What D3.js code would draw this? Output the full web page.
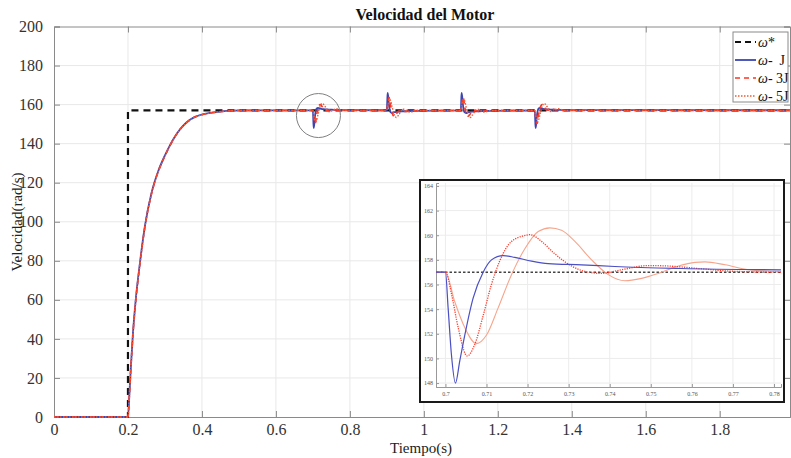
<!DOCTYPE html>
<html>
<head>
<meta charset="utf-8">
<script src="https://cdn.jsdelivr.net/npm/d3@7"></script>
<style>
  body { margin: 0; background: #fff; }
  svg { display: block; }
  svg text { font-family: 'Liberation Serif', 'DejaVu Serif', serif; }
</style>
</head>
<body>
<svg id="chart" width="791" height="458"></svg>
<script>
// main plot: time samples shared by the three speed traces
const tMain = [0, 0.2, 0.204, 0.208, 0.2135, 0.22, 0.2324, 0.246, 0.264, 0.282, 0.3, 0.3315, 0.3676, 0.4216, 0.51, 0.7,
  0.7015, 0.7024, 0.7053, 0.7075, 0.71, 0.714, 0.72, 0.7255, 0.732, 0.74, 0.745, 0.75, 0.763, 0.78, 0.9,
  0.9015, 0.9024, 0.9053, 0.9075, 0.91, 0.914, 0.92, 0.9255, 0.932, 0.94, 0.945, 0.95, 0.963, 0.98, 1.1,
  1.1015, 1.1024, 1.1053, 1.1075, 1.11, 1.114, 1.12, 1.1255, 1.132, 1.14, 1.145, 1.15, 1.163, 1.18, 1.3,
  1.3015, 1.3024, 1.3053, 1.3075, 1.31, 1.314, 1.32, 1.3255, 1.332, 1.34, 1.345, 1.35, 1.363, 1.38, 1.99];

const wJ = [0, 0, 12, 26, 43, 58, 79, 98, 115, 126, 134, 145, 152.3, 155.8, 157, 157,
  150.3, 148.0, 153.5, 156.5, 157.9, 158.3, 157.9, 157.7, 157.6, 157.5, 157.4, 157.4, 157.3, 157.2, 157.1,
  163.7, 166.0, 160.5, 157.5, 156.1, 155.7, 156.1, 156.3, 156.4, 156.5, 156.6, 156.6, 156.7, 156.8, 157.0,
  163.7, 166.0, 160.5, 157.5, 156.1, 155.7, 156.1, 156.3, 156.4, 156.5, 156.6, 156.6, 156.7, 156.8, 157.0,
  150.3, 148.0, 153.5, 156.5, 157.9, 158.3, 157.9, 157.7, 157.6, 157.5, 157.4, 157.4, 157.3, 157.2, 157.1];

const w3J = [0, 0, 11.8, 25.7, 42.6, 57.6, 78.6, 97.7, 114.7, 125.8, 133.8, 144.9, 152.2, 155.7, 157, 157,
  155.2, 153.8, 150.2, 151.1, 154.5, 158.3, 160.0, 158.8, 157.3, 157.1, 157.3, 157.55, 157.25, 157.0, 157.0,
  158.8, 160.2, 163.8, 163.0, 159.5, 155.7, 154.0, 155.2, 156.7, 156.9, 156.7, 156.45, 156.75, 157.0, 157.0,
  158.8, 160.2, 163.8, 163.0, 159.5, 155.7, 154.0, 155.2, 156.7, 156.9, 156.7, 156.45, 156.75, 157.0, 157.0,
  155.2, 153.8, 150.2, 151.1, 154.5, 158.3, 160.0, 158.8, 157.3, 157.1, 157.3, 157.55, 157.25, 157.0, 157.0];

const w5J = [0, 0, 11.6, 25.4, 42.2, 57.2, 78.2, 97.4, 114.4, 125.6, 133.6, 144.8, 152.1, 155.6, 157, 157,
  155.0, 154.6, 152.0, 151.2, 151.9, 155.0, 159.2, 160.6, 159.3, 156.8, 156.35, 156.7, 157.85, 157.05, 157.0,
  159.0, 159.4, 162.0, 162.8, 162.1, 159.0, 154.8, 153.4, 154.7, 157.2, 157.65, 157.3, 156.15, 156.95, 157.0,
  159.0, 159.4, 162.0, 162.8, 162.1, 159.0, 154.8, 153.4, 154.7, 157.2, 157.65, 157.3, 156.15, 156.95, 157.0,
  155.0, 154.6, 152.0, 151.2, 151.9, 155.0, 159.2, 160.6, 159.3, 156.8, 156.35, 156.7, 157.85, 157.05, 157.0];

// reference step
const tRef = [0, 0.2, 0.2, 1.99];
const wRef = [0, 0, 157, 157];

const xTicks = [0, 0.2, 0.4, 0.6, 0.8, 1, 1.2, 1.4, 1.6, 1.8];
const yTicks = [0, 20, 40, 60, 80, 100, 120, 140, 160, 180, 200];

// zoomed inset around the first load step (t = 0.7 s)
const tZJ = [0.6977, 0.7, 0.70065, 0.70146, 0.70244, 0.70349, 0.70471, 0.70674, 0.70918, 0.71121, 0.71405,
  0.71689, 0.72096, 0.72502, 0.73314, 0.74126, 0.7575, 0.7817];
const wZJ = [157, 157, 154.1, 150.3, 148.0, 149.8, 151.9, 154.9, 157.0, 158.0, 158.35,
  158.2, 157.9, 157.7, 157.6, 157.46, 157.3, 157.19];

const tZ3J = [0.6977, 0.7, 0.7015, 0.7031, 0.70528, 0.7071, 0.7092, 0.7112, 0.7132, 0.7161, 0.7197, 0.7205,
  0.7234, 0.7266, 0.7307, 0.7348, 0.738, 0.7429, 0.7494, 0.7543, 0.7616, 0.7697, 0.7817];
const wZ3J = [157, 157, 155.2, 152.5, 150.2, 151.1, 153.5, 156.0, 157.9, 159.5, 160.0, 160.05,
  159.5, 158.5, 157.5, 157.0, 156.9, 157.2, 157.54, 157.5, 157.3, 157.08, 157.0];

const tZ5J = [0.6977, 0.7, 0.70227, 0.70471, 0.70755, 0.71, 0.71283, 0.71608, 0.71933, 0.72258, 0.72542,
  0.72827, 0.73152, 0.73558, 0.73964, 0.7437, 0.74776, 0.75182, 0.7567, 0.76075, 0.7632, 0.7681, 0.77375, 0.7817];
const wZ5J = [157, 157, 154.6, 152.5, 151.2, 151.9, 154.1, 156.8, 158.9, 160.3, 160.6,
  160.4, 159.5, 158.0, 156.8, 156.3, 156.5, 156.9, 157.5, 157.8, 157.84, 157.6, 157.2, 157.05];

const tZRef = [0.6977, 0.7817];
const wZRef = [157, 157];

const zxTicks = [0.7, 0.71, 0.72, 0.73, 0.74, 0.75, 0.76, 0.77, 0.78];
const zyTicks = [148, 150, 152, 154, 156, 158, 160, 162, 164];

const legendLabels = ['*', '-  J', '- 3J', '- 5J'];

const SERIF = "'Liberation Serif', 'DejaVu Serif', serif";
const C_BLUE = '#3a46b4', C_RED = '#ff3322', C_ORANGE = '#ef5a36';

const svg = d3.select('#chart');

// ---- main axes ----
const x = d3.scaleLinear().domain([0, 1.99]).range([54, 790]);
const y = d3.scaleLinear().domain([0, 200]).range([417, 26.5]);

// grid
svg.append('g').selectAll('line').data(xTicks.slice(1)).enter().append('line')
  .attr('x1', d => x(d)).attr('x2', d => x(d)).attr('y1', y(0)).attr('y2', y(200))
  .attr('stroke', '#e8e8e8').attr('stroke-width', 1);
svg.append('g').selectAll('line').data(yTicks.slice(1, -1)).enter().append('line')
  .attr('x1', x(0)).attr('x2', 790).attr('y1', d => y(d)).attr('y2', d => y(d))
  .attr('stroke', '#e8e8e8').attr('stroke-width', 1);

// frame + inward ticks (MATLAB box style)
const axBottom = svg.append('g').attr('transform', `translate(0,${y(0)})`)
  .call(d3.axisBottom(x).tickValues(xTicks).tickSize(-6).tickPadding(7).tickFormat(d3.format('~g')));
const axTop = svg.append('g').attr('transform', `translate(0,${y(200)})`)
  .call(d3.axisTop(x).tickValues(xTicks).tickSize(-6).tickFormat(''));
const axLeft = svg.append('g').attr('transform', `translate(${x(0)},0)`)
  .call(d3.axisLeft(y).tickValues(yTicks).tickSize(-6).tickPadding(11));
const axRight = svg.append('g').attr('transform', `translate(790,0)`)
  .call(d3.axisRight(y).tickValues(yTicks).tickSize(-6).tickFormat(''));
[axBottom, axTop, axLeft, axRight].forEach(a => {
  a.attr('font-family', SERIF).attr('font-size', 16);
  a.select('.domain').attr('stroke', '#8a8a8a');
  a.selectAll('.tick line').attr('stroke', '#8a8a8a');
  a.selectAll('text').attr('fill', '#333');
});
axBottom.selectAll('.tick').filter(d => d === 0).select('line').remove();
axTop.selectAll('.tick').filter(d => d === 0).select('line').remove();

// curves
const zip = (ts, vs) => ts.map((t, i) => [t, vs[i]]);
const lineSmooth = d3.line().x(d => x(d[0])).y(d => y(d[1])).curve(d3.curveMonotoneX);
const lineStep = d3.line().x(d => x(d[0])).y(d => y(d[1]));

const plot = svg.append('g');
plot.append('path').attr('d', lineStep(zip(tRef, wRef)))
  .attr('fill', 'none').attr('stroke', '#111').attr('stroke-width', 2.2).attr('stroke-dasharray', '7,5');
plot.append('path').attr('d', lineSmooth(zip(tMain, wJ)))
  .attr('fill', 'none').attr('stroke', C_BLUE).attr('stroke-width', 1.8);
plot.append('path').attr('d', lineSmooth(zip(tMain, w3J)))
  .attr('fill', 'none').attr('stroke', C_RED).attr('stroke-width', 1.6).attr('stroke-dasharray', '5,4');
plot.append('path').attr('d', lineSmooth(zip(tMain, w5J)))
  .attr('fill', 'none').attr('stroke', C_ORANGE).attr('stroke-width', 1.4).attr('stroke-dasharray', '1.5,1.5');

// highlight circle around first disturbance
svg.append('circle').attr('cx', x(0.715)).attr('cy', y(154.4)).attr('r', 22)
  .attr('fill', 'none').attr('stroke', '#808080').attr('stroke-width', 1);

// title and axis labels
svg.append('text').attr('x', 425).attr('y', 20).attr('text-anchor', 'middle')
  .attr('font-size', 16).attr('font-weight', 'bold').attr('fill', '#111').text('Velocidad del Motor');
svg.append('text').attr('x', 421).attr('y', 453).attr('text-anchor', 'middle')
  .attr('font-size', 15).attr('fill', '#222').text('Tiempo(s)');
svg.append('text').attr('transform', 'translate(22,222) rotate(-90)').attr('text-anchor', 'middle')
  .attr('font-size', 15).attr('fill', '#222').text('Velocidad(rad/s)');

// legend
const lg = svg.append('g');
lg.append('rect').attr('x', 733).attr('y', 32).attr('width', 55).attr('height', 70)
  .attr('fill', '#fff').attr('stroke', '#8a8a8a').attr('stroke-width', 1);
const lgStyles = [
  { c: '#111', w: 2.2, dash: '6,4' },
  { c: C_BLUE, w: 1.8, dash: null },
  { c: C_RED, w: 1.6, dash: '5,4' },
  { c: C_ORANGE, w: 1.4, dash: '1.5,1.5' }
];
legendLabels.forEach((lab, i) => {
  const yy = 42 + i * 18;
  lg.append('line').attr('x1', 735).attr('x2', 756).attr('y1', yy).attr('y2', yy)
    .attr('stroke', lgStyles[i].c).attr('stroke-width', lgStyles[i].w)
    .attr('stroke-dasharray', lgStyles[i].dash);
  const t = lg.append('text').attr('x', 758).attr('y', yy + 5).attr('font-size', 14).attr('fill', '#111');
  t.append('tspan').attr('font-style', 'italic').text('ω');
  t.append('tspan').attr('xml:space', 'preserve').text(lab);
});

// ---- inset ----
const ix = d3.scaleLinear().domain([0.6977, 0.7817]).range([436, 781]);
const iy = d3.scaleLinear().domain([147.68, 164.24]).range([387, 183]);

svg.append('rect').attr('x', 420).attr('y', 180).attr('width', 364).attr('height', 222)
  .attr('fill', '#fff').attr('stroke', '#1a1a1a').attr('stroke-width', 2);

const inset = svg.append('g');
inset.append('g').selectAll('line').data(zxTicks).enter().append('line')
  .attr('x1', d => ix(d)).attr('x2', d => ix(d)).attr('y1', 183).attr('y2', 387)
  .attr('stroke', '#ececec');
inset.append('g').selectAll('line').data(zyTicks).enter().append('line')
  .attr('x1', 436).attr('x2', 781).attr('y1', d => iy(d)).attr('y2', d => iy(d))
  .attr('stroke', '#ececec');

const izB = inset.append('g').attr('transform', 'translate(0,387)')
  .call(d3.axisBottom(ix).tickValues(zxTicks).tickSize(-3).tickPadding(5).tickFormat(d3.format('~g')));
const izL = inset.append('g').attr('transform', 'translate(436,0)')
  .call(d3.axisLeft(iy).tickValues(zyTicks).tickSize(-3).tickPadding(3));
[izB, izL].forEach(a => {
  a.attr('font-family', SERIF).attr('font-size', 6);
  a.select('.domain').attr('stroke', '#999');
  a.selectAll('.tick line').attr('stroke', '#999');
  a.selectAll('text').attr('fill', '#555');
});

const iLine = d3.line().x(d => ix(d[0])).y(d => iy(d[1])).curve(d3.curveMonotoneX);
inset.append('path').attr('d', iLine(zip(tZRef, wZRef)))
  .attr('fill', 'none').attr('stroke', '#444').attr('stroke-width', 1.6).attr('stroke-dasharray', '2.5,2');
inset.append('path').attr('d', iLine(zip(tZ5J, wZ5J)))
  .attr('fill', 'none').attr('stroke', '#f6a58c').attr('stroke-width', 1.1);
inset.append('path').attr('d', iLine(zip(tZ3J, wZ3J)))
  .attr('fill', 'none').attr('stroke', '#ff3a2a').attr('stroke-width', 1.3).attr('stroke-dasharray', '1.2,1.2');
inset.append('path').attr('d', iLine(zip(tZJ, wZJ)))
  .attr('fill', 'none').attr('stroke', '#4a4fc4').attr('stroke-width', 1.2);
</script>
</body>
</html>
